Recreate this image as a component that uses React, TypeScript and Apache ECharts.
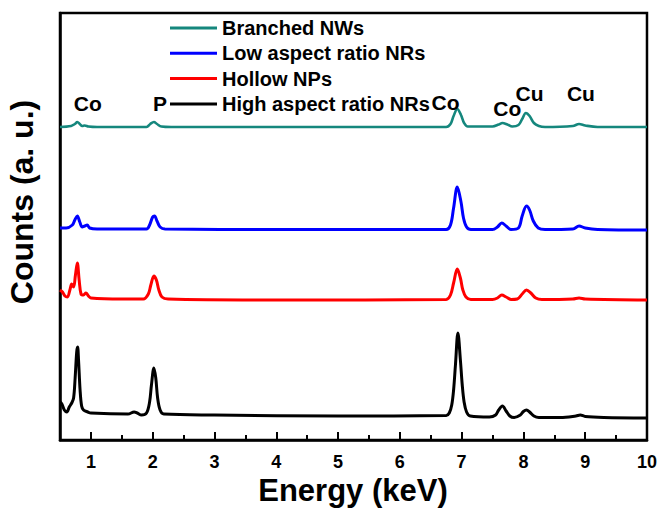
import React, { useEffect, useRef } from "react";
import * as echarts from "echarts";

const FONT = "'Liberation Sans', Arial, Helvetica, sans-serif";

const seriesNames = [
  "Branched NWs",
  "Low aspect ratio NRs",
  "Hollow NPs",
  "High aspect ratio NRs",
];
const seriesColors = ["#15877d", "#0000ff", "#ff0000", "#000000"];

// [energy keV, counts (offset, a.u.)]
const branchedNWs: [number, number][] = [
  [0.5, 313], [0.68, 314], [0.74, 316], [0.78, 318], [0.82, 316], [0.86, 314], [0.9, 314.5],
  [0.96, 313.5], [1.1, 313], [1.9, 313], [1.96, 316], [2.02, 318], [2.07, 316], [2.14, 313.5],
  [2.3, 313], [6.75, 313], [6.82, 316], [6.87, 324], [6.93, 331], [6.99, 325], [7.04, 317],
  [7.1, 313.5], [7.5, 313.5], [7.6, 315.5], [7.66, 317], [7.74, 315.5], [7.82, 313.5],
  [7.92, 315], [7.98, 321], [8.04, 327], [8.1, 324], [8.17, 317], [8.25, 314], [8.35, 313],
  [8.8, 314], [8.9, 316], [9.0, 314.5], [9.2, 313], [10, 313],
];

const lowAspectNRs: [number, number][] = [
  [0.5, 212], [0.6, 212], [0.7, 215], [0.74, 220], [0.78, 224], [0.82, 218], [0.86, 213],
  [0.9, 214], [0.94, 215], [0.98, 212], [1.1, 211], [1.9, 211], [1.95, 215], [2.0, 223],
  [2.03, 224], [2.07, 219], [2.12, 213], [2.2, 211], [4, 210.5], [6.75, 210.5], [6.82, 215],
  [6.87, 232], [6.93, 253], [6.99, 238], [7.03, 222], [7.08, 213], [7.15, 210.5], [7.5, 210.5],
  [7.58, 213], [7.65, 217], [7.72, 214], [7.8, 210.5], [7.92, 212], [7.98, 224], [8.05, 234],
  [8.1, 230], [8.16, 219], [8.24, 212], [8.35, 210.5], [8.8, 211], [8.9, 214], [9.0, 212],
  [9.2, 210.5], [10, 210],
];

const hollowNPs: [number, number][] = [
  [0.5, 150], [0.54, 148], [0.58, 144], [0.62, 143], [0.66, 150], [0.69, 156], [0.72, 153],
  [0.75, 165], [0.78, 177], [0.81, 160], [0.84, 146], [0.88, 145], [0.92, 147], [0.96, 144],
  [1.0, 142], [1.5, 141], [1.85, 141], [1.93, 146], [1.97, 155], [2.02, 164], [2.06, 160],
  [2.1, 150], [2.15, 143], [2.25, 141], [4, 140], [6.75, 140.5], [6.82, 145], [6.87, 157],
  [6.93, 171], [6.98, 162], [7.02, 150], [7.07, 143], [7.15, 140.5], [7.5, 140.5], [7.58, 142],
  [7.65, 145], [7.72, 143], [7.8, 140.5], [7.9, 141], [7.98, 146], [8.05, 150], [8.12, 147],
  [8.2, 142], [8.3, 140.5], [8.8, 141], [8.9, 142], [9.0, 141], [10, 140],
];

const highAspectNRs: [number, number][] = [
  [0.5, 38], [0.53, 36], [0.57, 30], [0.61, 28], [0.65, 33], [0.69, 37], [0.72, 42],
  [0.745, 62], [0.77, 88], [0.785, 93], [0.8, 80], [0.825, 50], [0.85, 34], [0.88, 30],
  [0.95, 28], [1.0, 27], [1.6, 26], [1.7, 28], [1.75, 27], [1.82, 25], [1.9, 27], [1.95, 38],
  [1.98, 55], [2.02, 72], [2.05, 62], [2.08, 42], [2.12, 30], [2.18, 26], [3, 25], [5, 24],
  [6.75, 24.5], [6.8, 27], [6.84, 35], [6.87, 50], [6.9, 75], [6.94, 107], [6.98, 80],
  [7.01, 55], [7.04, 38], [7.08, 28], [7.14, 24], [7.45, 23], [7.55, 25], [7.6, 30],
  [7.66, 34], [7.72, 29], [7.78, 24], [7.85, 22.5], [7.95, 25], [8.0, 28.5], [8.05, 30],
  [8.1, 28], [8.17, 24], [8.25, 22.5], [8.6, 22.5], [8.85, 24], [8.92, 25], [9.0, 23.5],
  [9.3, 22.5], [10, 22],
];

const seriesData = [branchedNWs, lowAspectNRs, hollowNPs, highAspectNRs];

// peak annotations: [energy, height]
const peakLabelNames = ["Co", "P", "Co", "Co", "Cu", "Cu"];
const peakLabelPos: [number, number][] = [
  [0.95, 337], [2.12, 337], [6.74, 338], [7.74, 332], [8.1, 347], [8.93, 347],
];

const xTitle = "Energy (keV)";
const yTitle = "Counts (a. u.)";

export default function App() {
  const ref = useRef<HTMLDivElement>(null);
  useEffect(() => {
    if (!ref.current) return;
    const chart = echarts.init(ref.current, undefined, { renderer: "svg" });
    const lineSeries = seriesNames.map((name, i) => ({
      name,
      type: "line",
      data: seriesData[i],
      showSymbol: false,
      symbol: "none",
      smooth: 0.35,
      lineStyle: { color: seriesColors[i], width: i === 0 ? 2.6 : 3 },
      itemStyle: { color: seriesColors[i] },
      z: 5 - i,
    }));
    const titles = [
      {
        type: "text",
        x: 353,
        y: 490,
        style: {
          text: xTitle,
          fontFamily: FONT,
          fontWeight: "bold",
          fontSize: 31,
          fill: "#000",
          textAlign: "center",
          textVerticalAlign: "middle",
        },
      },
      {
        type: "text",
        x: 22,
        y: 202,
        rotation: Math.PI / 2,
        style: {
          text: yTitle,
          fontFamily: FONT,
          fontWeight: "bold",
          fontSize: 32,
          fill: "#000",
          textAlign: "center",
          textVerticalAlign: "middle",
        },
      },
    ];
    chart.setOption({
      animation: false,
      backgroundColor: "#ffffff",
      grid: {
        left: 60,
        right: 13,
        top: 13,
        bottom: 68,
        show: true,
        borderColor: "#000",
        borderWidth: 2.5,
        backgroundColor: "transparent",
      },
      legend: {
        data: seriesNames,
        orient: "vertical",
        left: 170,
        top: 18,
        padding: 0,
        itemWidth: 47,
        itemHeight: 3,
        itemGap: 5.3,
        icon: "rect",
        textStyle: {
          fontFamily: FONT,
          fontWeight: "bold",
          fontSize: 20,
          lineHeight: 20,
          color: "#000",
        },
      },
      xAxis: [
        {
          type: "value",
          min: 0.5,
          max: 10,
          minInterval: 1,
          maxInterval: 1,
          axisLine: { show: true, lineStyle: { color: "#000", width: 2.5 } },
          axisTick: { show: true, inside: true, length: 8, lineStyle: { color: "#000", width: 2 } },
          axisLabel: {
            showMinLabel: false,
            fontFamily: FONT,
            fontWeight: "bold",
            fontSize: 18,
            color: "#000",
            margin: 13,
          },
          splitLine: { show: false },
        },
        {
          type: "value",
          min: 0.5,
          max: 10,
          minInterval: 0.5,
          maxInterval: 0.5,
          position: "bottom",
          axisLine: { show: false },
          axisTick: { show: true, inside: true, length: 5, lineStyle: { color: "#000", width: 2 } },
          axisLabel: { show: false },
          splitLine: { show: false },
        },
      ],
      yAxis: {
        type: "value",
        min: 0,
        max: 427,
        axisLine: { show: true, lineStyle: { color: "#000", width: 2.5 } },
        axisTick: { show: false },
        axisLabel: { show: false },
        splitLine: { show: false },
      },
      series: lineSeries,
      graphic: titles,
    });
    const labels = peakLabelNames.map((n, i) => {
      const p = chart.convertToPixel({ xAxisIndex: 0, yAxisIndex: 0 }, peakLabelPos[i]) as number[];
      return {
        type: "text",
        x: p[0],
        y: p[1],
        z: 100,
        style: {
          text: n,
          fontFamily: FONT,
          fontWeight: "bold",
          fontSize: 21,
          fill: "#000",
          textAlign: "center",
          textVerticalAlign: "middle",
        },
      };
    });
    chart.setOption({ graphic: [...titles, ...labels] });
    return () => chart.dispose();
  }, []);
  return (
    <div
      ref={ref}
      style={{ position: "fixed", left: 0, top: 0, width: 660, height: 508, background: "#fff" }}
    />
  );
}
